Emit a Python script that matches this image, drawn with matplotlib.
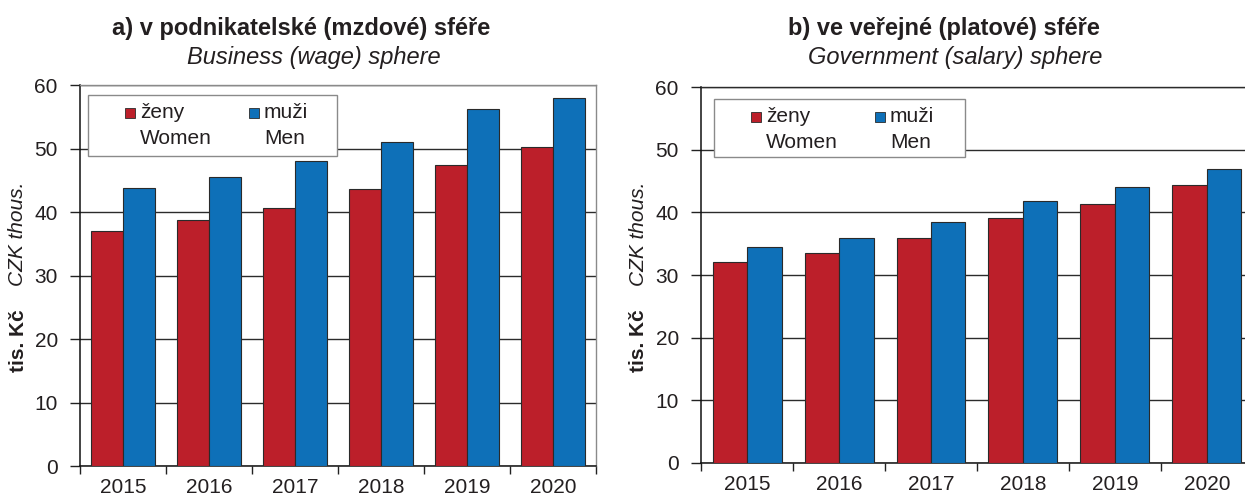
import matplotlib
matplotlib.use("Agg")
import matplotlib.pyplot as plt
from matplotlib.patches import Rectangle
import numpy as np

plt.rcParams['font.family'] = ['Liberation Sans', 'DejaVu Sans']

years = ["2015", "2016", "2017", "2018", "2019", "2020"]
business_women = [37.0, 38.8, 40.7, 43.7, 47.4, 50.3]
business_men = [43.8, 45.5, 48.1, 51.1, 56.2, 58.0]
government_women = [32.1, 33.5, 35.9, 39.1, 41.3, 44.4]
government_men = [34.5, 35.9, 38.4, 41.8, 44.1, 46.9]
yticks = [0, 10, 20, 30, 40, 50, 60]
series_labels = [("ženy", "Women"), ("muži", "Men")]
title_a = "a) v podnikatelské (mzdové) sféře"
sub_a = "Business (wage) sphere"
title_b = "b) ve veřejné (platové) sféře"
sub_b = "Government (salary) sphere"

RED = "#BC1F2A"
BLUE = "#0E70B8"
EDGE = "#2a2a2a"
TXT = "#231F20"

W, H = 1245, 499
fig = plt.figure(figsize=(W / 100, H / 100), dpi=100)


def fx(px):
    return px / W


def fy(py):
    return 1 - py / H


def panel(x0, x1, y0, y1, women, men, legbox, topcol):
    ax = fig.add_axes([fx(x0), fy(y1), fx(x1) - fx(x0), fy(y0) - fy(y1)])
    x = np.arange(len(years))
    bw = 0.375
    ax.bar(x - bw / 2, women, bw, color=RED, edgecolor=EDGE, linewidth=0.8, zorder=3)
    ax.bar(x + bw / 2, men, bw, color=BLUE, edgecolor=EDGE, linewidth=0.8, zorder=3)
    ax.set_xlim(-0.5, len(years) - 0.5)
    ax.set_ylim(0, 60)
    ax.set_yticks(yticks)
    ax.set_yticklabels([str(v) for v in yticks], fontsize=15, color=TXT)
    ax.yaxis.grid(True, color="#2b2b2b", linewidth=1.0, zorder=0)
    ax.set_axisbelow(True)
    ax.set_xticks(np.arange(len(years) + 1) - 0.5)
    ax.set_xticklabels([])
    ax.set_xticks(x, minor=True)
    ax.set_xticklabels(years, minor=True, fontsize=15, color=TXT)
    ax.tick_params(axis="x", which="major", length=6, width=1, color="#222222", direction="out")
    ax.tick_params(axis="x", which="minor", length=0, pad=8.5)
    ax.tick_params(axis="y", length=7, width=1, color="#222222", pad=9)
    for s in ["left", "bottom"]:
        ax.spines[s].set_color("#111111")
        ax.spines[s].set_linewidth(1.1)
    for s in ["top", "right"]:
        ax.spines[s].set_color(topcol)
        ax.spines[s].set_linewidth(1.0)
    # legend box (figure pixel coords)
    lx0, ly0, lx1, ly1 = legbox
    fig.patches.append(Rectangle((fx(lx0), fy(ly1)), fx(lx1) - fx(lx0), fy(ly0) - fy(ly1),
                                 transform=fig.transFigure, facecolor="white",
                                 edgecolor="#8a8a8a", linewidth=1.0, zorder=5))
    colors = [RED, BLUE]
    offs = [(37, 52), (161, 176)]
    for (l1, l2), c, (so, to) in zip(series_labels, colors, offs):
        sx = lx0 + so
        sy = ly0 + 18
        fig.patches.append(Rectangle((fx(sx), fy(sy + 5)), fx(10), 10 / H,
                                     transform=fig.transFigure, facecolor=c,
                                     edgecolor=EDGE, linewidth=0.6, zorder=6))
        fig.text(fx(lx0 + to), fy(sy), l1, fontsize=15, va="center", ha="left",
                 color=TXT, zorder=7)
        fig.text(fx(lx0 + to), fy(sy + 25), l2, fontsize=15, va="center", ha="left",
                 color=TXT, zorder=7)
    return ax


panel(80, 596, 85, 466, business_women, business_men, (88, 95, 337, 156), "#8a8a8a")
panel(701, 1253, 87, 463, government_women, government_men, (714, 99, 965, 157), "#2b2b2b")

# titles
fig.text(fx(301.5), fy(35), title_a, fontsize=17, fontweight="bold", ha="center", va="baseline", color=TXT)
fig.text(fx(313.5), fy(64), sub_a, fontsize=17, style="italic", ha="center", va="baseline", color=TXT)
fig.text(fx(944), fy(35), title_b, fontsize=17, fontweight="bold", ha="center", va="baseline", color=TXT)
fig.text(fx(955), fy(64), sub_b, fontsize=17, style="italic", ha="center", va="baseline", color=TXT)

# y labels
for xx in (18, 639):
    fig.text(fx(xx), fy(341), "tis. Kč", fontsize=15, fontweight="bold", rotation=90,
             ha="center", va="center", color=TXT)
    fig.text(fx(xx), fy(234), "CZK thous.", fontsize=15, style="italic", rotation=90,
             ha="center", va="center", color=TXT)

fig.savefig("out.png", dpi=100)
